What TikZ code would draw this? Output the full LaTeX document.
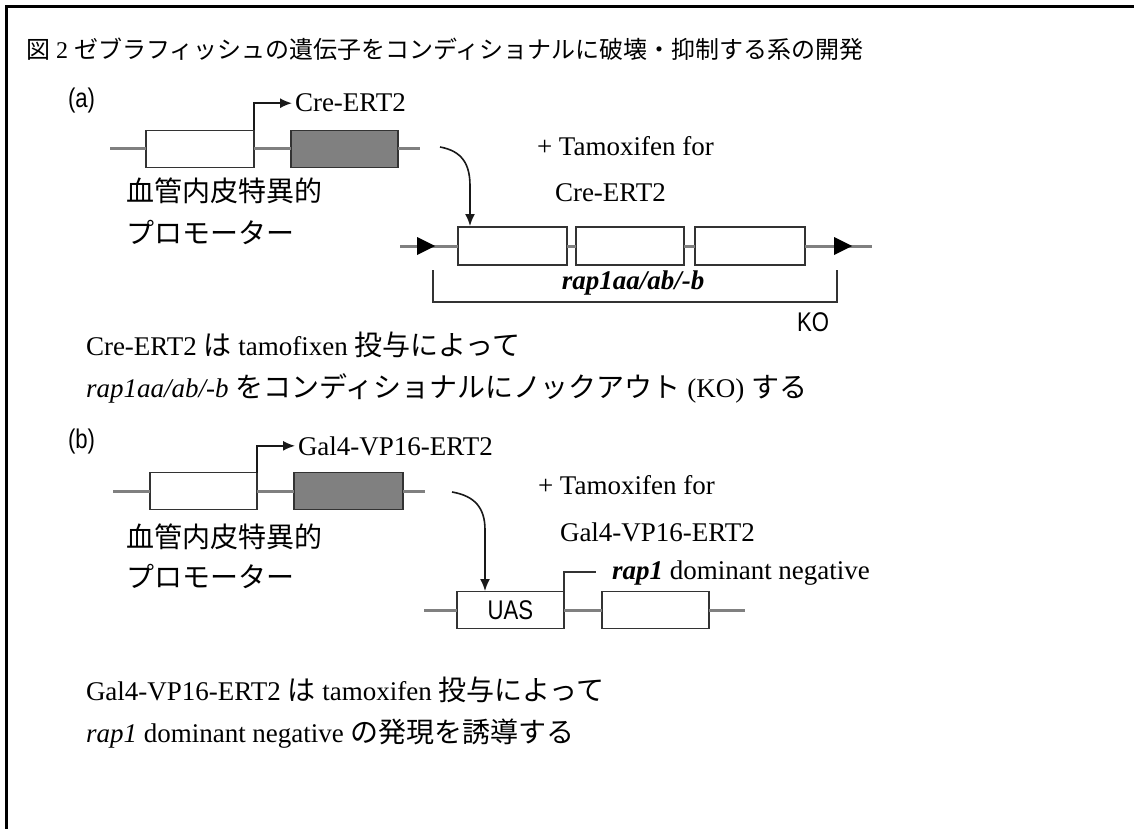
\documentclass[tikz,border=0pt]{standalone}
\usepackage{fontspec}
\setmainfont{Liberation Serif}
\newfontfamily\jpfont{Noto Sans CJK JP}
\newfontfamily\snsfont[FakeStretch=0.82]{Liberation Sans}
\newcommand\JP[1]{{\jpfont #1}}
\newcommand\JB[1]{{\jpfont\fontsize{28}{30}\selectfont #1}}
\usetikzlibrary{arrows.meta}
\begin{document}
\begin{tikzpicture}[x=1pt,y=-1pt,
  backbone/.style={draw=black!50, line width=3pt},
  wbox/.style={draw=black!80, line width=1.8pt, fill=white, minimum width=#1, minimum height=37pt, inner sep=0pt, outer sep=0pt},
  gbox/.style={wbox=#1, fill=black!50},
  arr/.style={draw=black!90, line width=1.6pt, -{Latex[length=12pt,width=10pt]}},
  brk/.style={draw=black!80, line width=2pt},
  lbl/.style={anchor=base west, inner sep=0pt, outer sep=0pt, font=\fontsize{27}{30}\selectfont},
  jlbl/.style={lbl, font=\fontsize{28}{30}\selectfont\jpfont},
  slbl/.style={lbl, font=\fontsize{27}{30}\selectfont\snsfont},
  tri/.style={fill=black}
]
\useasboundingbox (0,0) rectangle (1134,829);
\fill[white] (0,0) rectangle (1134,829);
% frame
\coordinate (fbl) at (6,840);
\coordinate (ftl) at (6,7);
\coordinate (ftr) at (1140,7);
\draw[line width=3pt, black] (fbl) -- (ftl) -- (ftr);

% title
\node[lbl, font=\fontsize{24}{28}\selectfont] (title) at (26,59)
  {\JP{図}~2~\JP{ゼブラフィッシュの遺伝子をコンディショナルに破壊・抑制する系の開発}};

% ---------------- (a) ----------------
\node[slbl] (la) at (68,108) {(a)};

\coordinate (la0) at (110,149);
\coordinate (la1) at (420,149);
\node[wbox=108] (pa) at (200,149) {};
\node[gbox=107] (ga) at (344.5,149) {};
\draw[backbone] (la0) -- (pa.west);
\draw[backbone] (pa.east) -- (ga.west);
\draw[backbone] (ga.east) -- (la1);
\node[lbl] (tcre) at (295,112) {Cre-ERT2};
\draw[arr] (pa.north east) |- ([xshift=-3pt]tcre.west);

\node[jlbl] (pva) at (126,201) {血管内皮特異的};
\node[jlbl] (ppa) at (126,243) {プロモーター};

\node[lbl] (tama) at (537,156) {+ Tamoxifen for};
\node[lbl] (tamb) at (555,201) {Cre-ERT2};

\coordinate (ca0) at (440,147);
\coordinate (ca1) at (470,226);
\draw[arr] (ca0) .. controls (462,151) and (470,164) .. (470,186) -- (ca1);

\coordinate (ra0) at (400,246);
\coordinate (ra1) at (872,246);
\node[wbox=109, minimum height=38pt] (k1) at (512.5,246) {};
\node[wbox=108, minimum height=38pt] (k2) at (630,246) {};
\node[wbox=110, minimum height=38pt] (k3) at (750,246) {};
\draw[backbone] (ra0) -- (k1.west);
\draw[backbone] (k1.east) -- (k2.west);
\draw[backbone] (k2.east) -- (k3.west);
\draw[backbone] (k3.east) -- (ra1);
\fill[tri] (417,237) -- (435,246) -- (417,255) -- cycle;
\fill[tri] (834,237) -- (852,246) -- (834,255) -- cycle;
\node[lbl, anchor=base] (rapa) at (633,289) {\textbf{\textit{rap1aa/ab/-b}}};

\coordinate (b0) at (433,270);
\coordinate (b1) at (837,302);
\coordinate (b2) at (837,270);
\draw[brk] (b0) |- (b1) -- (b2);
\node[slbl] (ko) at (797,331) {KO};

\node[lbl] (ta1) at (86,355) {Cre-ERT2 \JB{は} tamofixen \JB{投与によって}};
\node[lbl] (ta2) at (86,397) {\textit{rap1aa/ab/-b} \JB{をコンディショナルにノックアウト} (KO) \JB{する}};

% ---------------- (b) ----------------
\node[slbl] (lb) at (68,448) {(b)};

\coordinate (lb0) at (113,491);
\coordinate (lb1) at (425,491);
\node[wbox=107] (pb) at (203.5,491) {};
\node[gbox=109] (gb) at (348.5,491) {};
\draw[backbone] (lb0) -- (pb.west);
\draw[backbone] (pb.east) -- (gb.west);
\draw[backbone] (gb.east) -- (lb1);
\node[lbl] (tgal) at (298,455) {Gal4-VP16-ERT2};
\draw[arr] (pb.north east) |- ([xshift=-3pt]tgal.west);

\node[jlbl] (pvb) at (126,547) {血管内皮特異的};
\node[jlbl] (ppb) at (126,587) {プロモーター};

\node[lbl] (tamc) at (538,494) {+ Tamoxifen for};
\node[lbl] (tamd) at (560,541) {Gal4-VP16-ERT2};

\coordinate (cb0) at (452,492);
\coordinate (cb1) at (485,591);
\draw[arr] (cb0) .. controls (475,496) and (485,508) .. (485,530) -- (cb1);

\coordinate (rb0) at (424,610);
\coordinate (rb1) at (745,610);
\node[wbox=107, font=\fontsize{27}{30}\selectfont\snsfont] (uas) at (510.5,610) {UAS};
\node[wbox=107] (db) at (655.5,610) {};
\draw[backbone] (rb0) -- (uas.west);
\draw[backbone] (uas.east) -- (db.west);
\draw[backbone] (db.east) -- (rb1);
\coordinate (pr) at (596,572);
\draw[draw=black!80, line width=2pt] (uas.north east) |- (pr);
\node[lbl] (rdn) at (612,579) {\textbf{\textit{rap1}} dominant negative};

\node[lbl] (tb1) at (86,700) {Gal4-VP16-ERT2 \JB{は} tamoxifen \JB{投与によって}};
\node[lbl] (tb2) at (86,742) {\textit{rap1} dominant negative \JB{の発現を誘導する}};
\end{tikzpicture}
\end{document}
